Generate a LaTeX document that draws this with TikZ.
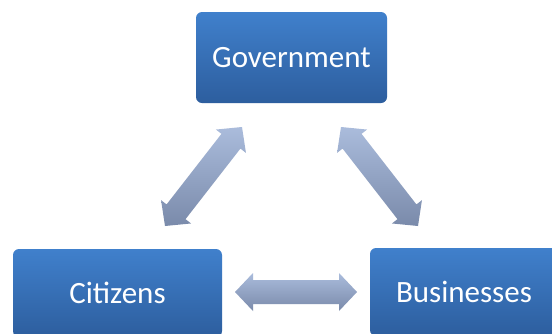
\documentclass[tikz,border=0pt]{standalone}
\usepackage{fontspec}
\setmainfont{Carlito}
\usetikzlibrary{calc}

\definecolor{boxtop}{RGB}{64,128,204}
\definecolor{boxbot}{RGB}{45,94,158}
\definecolor{arrtop}{RGB}{170,188,220}
\definecolor{arrbot}{RGB}{122,138,170}

\tikzset{
  party/.style={rectangle, rounded corners=6pt, top color=boxtop, bottom color=boxbot,
    text=white, font=\fontsize{31}{36}\selectfont, inner sep=0pt},
  link/.style={top color=arrtop, bottom color=arrbot}
}

%% block arrow with two heads, from #1 to #2
\newcommand{\dblarrow}[2]{%
  \path[link] (#1)
    -- ($(#1)!18pt!(#2)!19pt!90:(#2)$) -- ($(#1)!18pt!(#2)!12pt!90:(#2)$)
    -- ($(#2)!18pt!(#1)!12pt!-90:(#1)$) -- ($(#2)!18pt!(#1)!19pt!-90:(#1)$)
    -- (#2)
    -- ($(#2)!18pt!(#1)!19pt!90:(#1)$) -- ($(#2)!18pt!(#1)!12pt!90:(#1)$)
    -- ($(#1)!18pt!(#2)!12pt!-90:(#2)$) -- ($(#1)!18pt!(#2)!19pt!-90:(#2)$)
    -- cycle;}

\begin{document}
\begin{tikzpicture}[x=1pt,y=-1pt]
  \clip (0,0) rectangle (552,333);%
  \fill[white] (0,0) rectangle (552,333);%

  \node[party, minimum width=191pt, minimum height=91pt] (gov) at (291.5,57.5) {Government};
  \node[party, minimum width=209pt, minimum height=88pt] (cit) at (117.5,293) {Citizens};
  \node[party, minimum width=188pt, minimum height=88pt] (bus) at (464,292) {Businesses};

  \coordinate (cg) at (165,226); \coordinate (gc) at (242,127);
  \coordinate (gb) at (341,127); \coordinate (bg) at (418,226);
  \coordinate (cb) at (235,292); \coordinate (bc) at (357,292);

  \dblarrow{cg}{gc}
  \dblarrow{gb}{bg}
  \dblarrow{cb}{bc}
\end{tikzpicture}
\end{document}
